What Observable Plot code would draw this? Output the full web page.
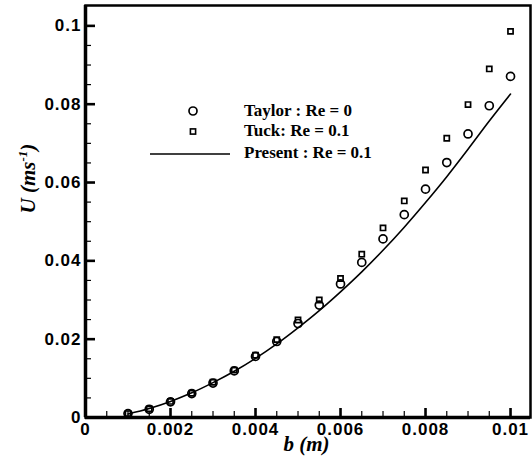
<!DOCTYPE html>
<html>
<head>
<meta charset="utf-8">
<script src="https://cdn.jsdelivr.net/npm/d3@7"></script>
<script src="https://cdn.jsdelivr.net/npm/@observablehq/plot@0.6"></script>
<style>
  html, body { margin: 0; padding: 0; background: white; }
</style>
</head>
<body>
<div id="chart"></div>
<script>
// Data
const bValues = [0.001, 0.0015, 0.002, 0.0025, 0.003, 0.0035, 0.004, 0.0045, 0.005, 0.0055,
                 0.006, 0.0065, 0.007, 0.0075, 0.008, 0.0085, 0.009, 0.0095, 0.01];
const taylorU = [0.0010, 0.0021, 0.0040, 0.0061, 0.0088, 0.0119, 0.0156, 0.0194, 0.0240, 0.0287,
                 0.0341, 0.0396, 0.0456, 0.0518, 0.0583, 0.0651, 0.0724, 0.0796, 0.0871];
const tuckU   = [0.0010, 0.0022, 0.0041, 0.0062, 0.0090, 0.0121, 0.0159, 0.0199, 0.0249, 0.0300,
                 0.0355, 0.0417, 0.0484, 0.0553, 0.0632, 0.0713, 0.0799, 0.0890, 0.0986];
const presentU = [0.0009, 0.0023, 0.0041, 0.0063, 0.0089, 0.0118, 0.0151, 0.0188, 0.0229, 0.0273,
                  0.0321, 0.0372, 0.0427, 0.0486, 0.0549, 0.0615, 0.0685, 0.0757, 0.0826];

const xMajor = [0, 0.002, 0.004, 0.006, 0.008, 0.01];
const xTickLabels = ["0", "0.002", "0.004", "0.006", "0.008", "0.01"];
const xMinor = [0.0005, 0.001, 0.0015, 0.0025, 0.003, 0.0035, 0.0045, 0.005, 0.0055,
                0.0065, 0.007, 0.0075, 0.0085, 0.009, 0.0095];
const yMajor = [0, 0.02, 0.04, 0.06, 0.08, 0.1];
const yTickLabels = ["0", "0.02", "0.04", "0.06", "0.08", "0.1"];
const yMinor = [0.005, 0.01, 0.015, 0.025, 0.03, 0.035, 0.045, 0.05, 0.055,
                0.065, 0.07, 0.075, 0.085, 0.09, 0.095];

const legendLabels = ["Taylor : Re = 0", "Tuck: Re = 0.1", "Present : Re = 0.1"];
const xTitle = "b (m)";
const yTitle = ["U (ms", "-1", ")"];

const taylor = bValues.map((b, i) => ({b, u: taylorU[i]}));
const tuck = bValues.map((b, i) => ({b, u: tuckU[i]}));
const present = bValues.map((b, i) => ({b, u: presentU[i]}));

const W = 532, H = 462;
const mL = 85, mR = 2, mT = 5, mB = 45;
const pw = W - mL - mR, ph = H - mT - mB;

const sansFont = "'Liberation Sans', Arial, sans-serif";
const serifFont = "'Liberation Serif', 'Times New Roman', serif";

const svg = Plot.plot({
  width: W,
  height: H,
  marginLeft: mL,
  marginRight: mR,
  marginTop: mT,
  marginBottom: mB,
  style: {background: "white", color: "black", fontFamily: sansFont},
  x: {domain: [0, 0.01047]},
  y: {domain: [0, 0.1052]},
  marks: [
    Plot.line(present, {x: "b", y: "u", stroke: "black", strokeWidth: 1.6, curve: "monotone-x"}),
    Plot.dot(taylor, {x: "b", y: "u", r: 4, stroke: "black", strokeWidth: 1.7, fill: "none"}),
    Plot.dot(tuck, {x: "b", y: "u", symbol: "square", r: 2.9, stroke: "black", strokeWidth: 1.7, fill: "none"}),
    // inward ticks
    Plot.tickY(yMinor, {y: d => d, insetRight: pw - 6, strokeWidth: 1.2, stroke: "black"}),
    Plot.tickY(yMajor, {y: d => d, insetRight: pw - 10, strokeWidth: 2.6, stroke: "black"}),
    Plot.tickX(xMinor, {x: d => d, insetTop: ph - 6, strokeWidth: 1.2, stroke: "black"}),
    Plot.tickX(xMajor, {x: d => d, insetTop: ph - 9, strokeWidth: 2.6, stroke: "black"}),
    Plot.frame({stroke: "black", strokeWidth: 2.5}),
    Plot.ruleX([0], {stroke: "black", strokeWidth: 3.5}),
    Plot.ruleY([0], {stroke: "black", strokeWidth: 3.5}),
    Plot.axisX({ticks: xMajor, tickSize: 0, tickPadding: 5, fontSize: 17, fontWeight: "bold",
                tickFormat: d => xTickLabels[xMajor.indexOf(d)], label: null}),
    Plot.axisY({ticks: yMajor, tickSize: 0, tickPadding: 4, fontSize: 17, fontWeight: "bold",
                tickFormat: d => yTickLabels[yMajor.indexOf(d)], label: null}),
    Plot.text([xTitle], {frameAnchor: "bottom", dx: 221 - pw / 2, dy: 27, fontSize: 21,
                fontFamily: serifFont, fontWeight: "bold", fontStyle: "italic", lineAnchor: "middle"}),
    Plot.text([yTitle.join("")], {frameAnchor: "left", dx: -57, dy: 2, rotate: -90, fontSize: 21,
                fontFamily: serifFont, fontWeight: "bold", fontStyle: "italic", lineAnchor: "middle"})
  ]
});

const s = d3.select(svg);
s.selectAll('g[aria-label="x-axis tick label"] text, g[aria-label="y-axis tick label"] text')
  .style("letter-spacing", "1px");

// y label with superscript
s.selectAll("text").filter(function () { return this.textContent === yTitle.join(""); })
  .each(function () {
    const t = d3.select(this);
    t.text(null);
    t.append("tspan").text(yTitle[0]);
    t.append("tspan").attr("font-size", 13).attr("dy", -8).text(yTitle[1]);
    t.append("tspan").attr("dy", 8).text(yTitle[2]);
  });

// legend
const lg = s.append("g").attr("aria-label", "legend").attr("text-anchor", "start");
lg.append("circle").attr("cx", 193).attr("cy", 111).attr("r", 4)
  .attr("fill", "none").attr("stroke", "black").attr("stroke-width", 1.7);
lg.append("rect").attr("x", 190.4).attr("y", 128.9).attr("width", 5.2).attr("height", 5.2)
  .attr("fill", "none").attr("stroke", "black").attr("stroke-width", 1.6);
lg.append("line").attr("x1", 150).attr("x2", 230).attr("y1", 154).attr("y2", 154)
  .attr("stroke", "black").attr("stroke-width", 1.6);
const ly = [112, 132, 154];
legendLabels.forEach((t, i) => {
  lg.append("text").attr("x", 244).attr("y", ly[i]).attr("dominant-baseline", "middle")
    .attr("text-anchor", "start")
    .attr("font-family", serifFont).attr("font-weight", "bold").attr("font-size", 17)
    .attr("fill", "black").text(t);
});

document.getElementById("chart").appendChild(svg);
</script>
</body>
</html>
